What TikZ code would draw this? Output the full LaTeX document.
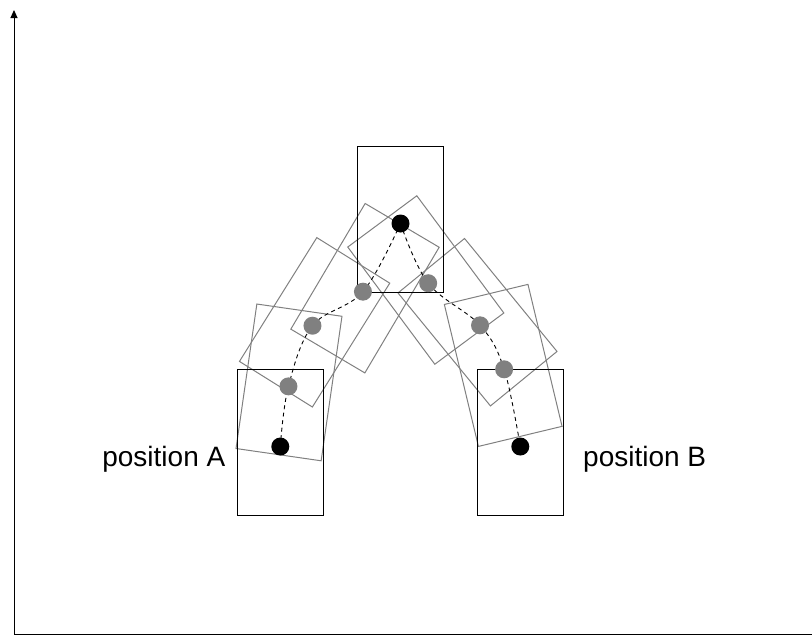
\documentclass[tikz,border=0pt]{standalone}
\usepackage{fontspec}
\setmainfont{Liberation Sans}
\usetikzlibrary{arrows.meta,calc}
\begin{document}
\begin{tikzpicture}[x=1pt,y=-1pt,
  boxbase/.style={line width=1pt,minimum width=86pt,minimum height=146pt,inner sep=0pt,outer sep=0pt},
  blackbox/.style={boxbase,draw=black},
  graybox/.style={boxbase,draw=gray},
  dotbase/.style={circle,minimum size=18pt,inner sep=0pt,outer sep=0pt},
  blackdot/.style={dotbase,fill=black},
  graydot/.style={dotbase,fill=gray},
  pathline/.style={draw=black,line width=0.9pt,dash pattern=on 4pt off 3.5pt},
  axisline/.style={draw=black,line width=1pt},
  lbl/.style={font=\fontsize{28}{32}\selectfont,inner sep=0pt}
]
\useasboundingbox (0,0) rectangle (812,638);
% axes
\coordinate (O) at (14,634);
\coordinate (Ytop) at (14,10);
\coordinate (Xend) at (812,634);
\draw[axisline,-{Triangle[length=8pt,width=7pt]}] (O) -- (Ytop);
\draw[axisline] (O) -- (Xend);
% gray intermediate boxes
\node[graybox,rotate=-8.2] (L1) at (289,382.4) {};
\node[graybox,rotate=-32] (L2) at (314.6,322.3) {};
\node[graybox,rotate=-30.6] (L3) at (365,288.2) {};
\node[graybox,rotate=36.6] (R1) at (425.8,280) {};
\node[graybox,rotate=39.3] (R2) at (477.5,322.2) {};
\node[graybox,rotate=13.5] (R3) at (503.2,365.4) {};
% black boxes
\node[blackbox] (A) at (280.3,442.5) {};
\node[blackbox] (B) at (520.3,442.5) {};
\node[blackbox] (T) at (400.5,219.5) {};
% dot positions
\foreach \n in {A,B,T,L1,L2,L3,R1,R2,R3}{
  \coordinate (p\n) at ($(\n.center)!0.055!(\n.south)$);
}
% dashed paths
\draw[pathline] plot[smooth,tension=0.6] coordinates {(pA) (pL1) (pL2) (pL3) (pT)};
\draw[pathline] plot[smooth,tension=0.6] coordinates {(pT) (pR1) (pR2) (pR3) (pB)};
% dots
\foreach \n in {L1,L2,L3,R1,R2,R3}{
  \node[graydot] (d\n) at (p\n) {};
}
\foreach \n in {A,B,T}{
  \node[blackdot] (d\n) at (p\n) {};
}
% labels
\node[lbl,anchor=base east] (labA) at (225.5,466) {position A};
\node[lbl,anchor=base west] (labB) at (583,466) {position B};
\end{tikzpicture}
\end{document}
